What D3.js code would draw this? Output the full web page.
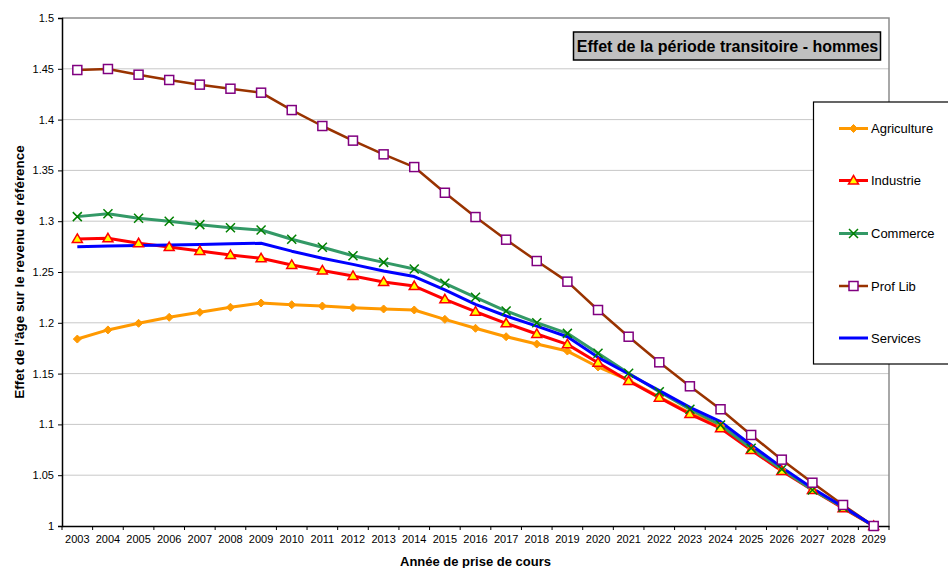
<!DOCTYPE html>
<html>
<head>
<meta charset="utf-8">
<script src="https://cdn.jsdelivr.net/npm/d3@7"></script>
<style>
  html, body { margin: 0; padding: 0; background: #ffffff; }
  svg { display: block; font-family: "Liberation Sans", Arial, sans-serif; }
</style>
</head>
<body>
<svg id="chart" width="948" height="568"></svg>
<script>
// Years of retirement start
const years = d3.range(2003, 2030);

// Age effect on the reference income, per sector
const agriculture = [1.184, 1.193, 1.1995, 1.2054, 1.2103, 1.2153, 1.2195, 1.2178, 1.2165, 1.2149, 1.2136, 1.2126,
  1.2034, 1.1946, 1.1863, 1.1791, 1.1722, 1.1565, 1.1435, 1.127, 1.1115, 1.0985, 1.076, 1.0555, 1.036, 1.018, 1.0];
const industrie = [1.2825, 1.2832, 1.2783, 1.2746, 1.2707, 1.2667, 1.2635, 1.2569, 1.2515, 1.2461, 1.2402, 1.2362,
  1.2231, 1.2109, 1.1995, 1.189, 1.1788, 1.1607, 1.1427, 1.1263, 1.1102, 1.0962, 1.0748, 1.0541, 1.0354, 1.0174, 1.0];
const commerce = [1.3045, 1.3074, 1.3029, 1.2999, 1.2966, 1.2936, 1.2913, 1.2822, 1.2743, 1.266, 1.2595, 1.253,
  1.2389, 1.2251, 1.2116, 1.2001, 1.1896, 1.17, 1.1503, 1.1322, 1.1149, 1.0994, 1.0765, 1.0558, 1.0354, 1.0184, 1.0];
const profLib = [1.4488, 1.4498, 1.4442, 1.439, 1.4344, 1.4304, 1.4265, 1.4094, 1.3937, 1.3793, 1.3658, 1.3533,
  1.328, 1.3041, 1.2818, 1.2608, 1.2405, 1.2126, 1.1863, 1.1611, 1.1375, 1.1149, 1.0896, 1.0653, 1.0426, 1.0207, 1.0];
const services = [1.2749, 1.2755, 1.276, 1.2766, 1.2771, 1.2777, 1.2783, 1.2705, 1.2636, 1.2575, 1.251, 1.2455,
  1.2323, 1.2182, 1.2067, 1.1968, 1.1863, 1.166, 1.1496, 1.1332, 1.1168, 1.1027, 1.0797, 1.0577, 1.0371, 1.019, 1.0];

const yTicks = [1, 1.05, 1.1, 1.15, 1.2, 1.25, 1.3, 1.35, 1.4, 1.45, 1.5];

const titleText = "Effet de la période transitoire - hommes";
const xTitle = "Année de prise de cours";
const yTitle = "Effet de l'âge sur le revenu de référence";

const series = [
  { name: "Agriculture", values: agriculture, line: "#FF9900", width: 3, marker: "diamond", mStroke: "#FF9900", mFill: "#FF9900" },
  { name: "Industrie", values: industrie, line: "#FF0000", width: 3, marker: "triangle", mStroke: "#FF0000", mFill: "#FFFF00" },
  { name: "Commerce", values: commerce, line: "#339966", width: 3, marker: "x", mStroke: "#008000", mFill: "none" },
  { name: "Prof Lib", values: profLib, line: "#993300", width: 2.5, marker: "square", mStroke: "#800080", mFill: "#FFFFFF" },
  { name: "Services", values: services, line: "#0000FF", width: 3, marker: null }
];

const svg = d3.select("#chart");
const plot = { left: 62, right: 889, top: 18, bottom: 526 };

const x = d3.scaleBand().domain(years).range([plot.left, plot.right]).paddingInner(0).paddingOuter(0);
const y = d3.scaleLinear().domain([1, 1.5]).range([plot.bottom, plot.top]);
const cx = yr => x(yr) + x.bandwidth() / 2;

// gridlines
svg.append("g").selectAll("line").data(yTicks.filter(t => t > 1 && t < 1.5)).join("line")
  .attr("x1", plot.left).attr("x2", plot.right)
  .attr("y1", d => y(d)).attr("y2", d => y(d))
  .attr("stroke", "#c8c8c8").attr("stroke-width", 1);

// plot frame (top & right)
svg.append("path")
  .attr("d", `M${plot.left},${plot.top}H${plot.right}V${plot.bottom}`)
  .attr("fill", "none").attr("stroke", "#8c8c8c").attr("stroke-width", 1.5);

// y axis
const yAxis = svg.append("g").attr("transform", `translate(${plot.left},0)`)
  .call(d3.axisLeft(y).tickValues(yTicks).tickFormat(d => String(+d.toFixed(2))).tickSize(4).tickPadding(4));
yAxis.select(".domain").attr("stroke", "#000").attr("stroke-width", 1.5);
yAxis.selectAll(".tick line").attr("stroke", "#000");
yAxis.selectAll("text").attr("font-size", 11).attr("fill", "#000")
  .attr("font-family", "Liberation Sans, Arial, sans-serif");

// x axis with ticks at band boundaries
const xAxis = svg.append("g").attr("transform", `translate(0,${plot.bottom})`)
  .call(d3.axisBottom(x).tickSize(0).tickPadding(9));
xAxis.select(".domain").attr("stroke", "#000").attr("stroke-width", 1.5);
xAxis.selectAll("text").attr("font-size", 11).attr("fill", "#000")
  .attr("font-family", "Liberation Sans, Arial, sans-serif");
xAxis.append("g").selectAll("line").data(years.concat([null])).join("line")
  .attr("x1", (d, i) => plot.left + i * x.bandwidth())
  .attr("x2", (d, i) => plot.left + i * x.bandwidth())
  .attr("y1", 0).attr("y2", 4).attr("stroke", "#000");

// axis titles
svg.append("text")
  .attr("x", (plot.left + plot.right) / 2).attr("y", 566)
  .attr("text-anchor", "middle").attr("font-size", 13).attr("font-weight", "bold")
  .text(xTitle);
svg.append("text")
  .attr("transform", `translate(24,272) rotate(-90)`)
  .attr("text-anchor", "middle").attr("font-size", 13.4).attr("font-weight", "bold")
  .text(yTitle);

// lines
const line = d3.line().x((d, i) => cx(years[i])).y(d => y(d));
svg.append("g").selectAll("path").data(series).join("path")
  .attr("d", s => line(s.values))
  .attr("fill", "none").attr("stroke", s => s.line).attr("stroke-width", s => s.width)
  .attr("stroke-linejoin", "round");

// marker shapes
function drawMarker(g, type, stroke, fill) {
  if (type === "diamond") {
    g.append("path").attr("d", "M0,-4L4,0L0,4L-4,0Z").attr("fill", fill).attr("stroke", stroke).attr("stroke-width", 1);
  } else if (type === "triangle") {
    g.append("path").attr("d", "M0,-5L5,3.5L-5,3.5Z").attr("fill", fill).attr("stroke", stroke).attr("stroke-width", 1.5);
  } else if (type === "x") {
    g.append("path").attr("d", "M-4.5,-4.5L4.5,4.5M-4.5,4.5L4.5,-4.5").attr("stroke", stroke).attr("stroke-width", 1.5);
  } else if (type === "square") {
    g.append("rect").attr("x", -4.5).attr("y", -4.5).attr("width", 9).attr("height", 9)
      .attr("fill", fill).attr("stroke", stroke).attr("stroke-width", 1.5);
  }
}

series.filter(s => s.marker).forEach(s => {
  const g = svg.append("g");
  s.values.forEach((v, i) => {
    const m = g.append("g").attr("transform", `translate(${cx(years[i])},${y(v)})`);
    drawMarker(m, s.marker, s.mStroke, s.mFill);
  });
});

// title box
const tb = svg.append("g");
tb.append("rect").attr("x", 573.5).attr("y", 32).attr("width", 307).attr("height", 28)
  .attr("fill", "#c0c0c0").attr("stroke", "#000").attr("stroke-width", 1.5);
tb.append("text").attr("x", 727.5).attr("y", 51.5).attr("text-anchor", "middle")
  .attr("font-size", 16).attr("font-weight", "bold").text(titleText);

// legend
const lg = svg.append("g");
lg.append("rect").attr("x", 813.5).attr("y", 102).attr("width", 140).attr("height", 262)
  .attr("fill", "#fff").attr("stroke", "#000").attr("stroke-width", 1.2);
const legendY = [128.5, 180.5, 233.5, 286, 338];
series.forEach((s, i) => {
  const row = lg.append("g").attr("transform", `translate(0,${legendY[i]})`);
  row.append("line").attr("x1", 839).attr("x2", 868).attr("y1", 0).attr("y2", 0)
    .attr("stroke", s.line).attr("stroke-width", s.width);
  if (s.marker) {
    const m = row.append("g").attr("transform", "translate(853.5,0)");
    drawMarker(m, s.marker, s.mStroke, s.mFill);
  }
  row.append("text").attr("x", 871).attr("y", 4.5).attr("font-size", 13).text(s.name);
});
</script>
</body>
</html>
